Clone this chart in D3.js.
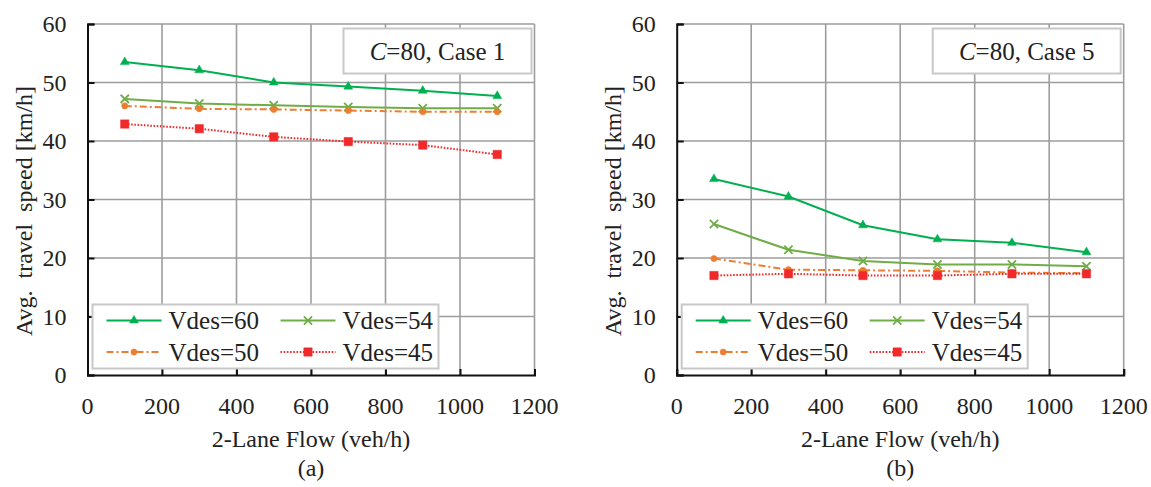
<!DOCTYPE html>
<html>
<head>
<meta charset="utf-8">
<script src="https://cdn.jsdelivr.net/npm/d3@7"></script>
<style>
  body { margin: 0; background: #fff; }
  svg text { font-family: "Liberation Serif", "Times New Roman", serif; fill: #222; }
</style>
</head>
<body>
<div id="chart"></div>
<script>
// —————————— DATA
var flows = [100, 300, 500, 700, 900, 1100];
var seriesNames = ["Vdes=60", "Vdes=54", "Vdes=50", "Vdes=45"];

// (a) C=80, Case 1
var speedA_v60 = [53.5, 52.1, 50.0, 49.3, 48.6, 47.7];
var speedA_v54 = [47.2, 46.4, 46.1, 45.8, 45.6, 45.6];
var speedA_v50 = [46.0, 45.5, 45.4, 45.2, 45.0, 45.0];
var speedA_v45 = [42.9, 42.1, 40.7, 39.9, 39.3, 37.7];

// (b) C=80, Case 5
var speedB_v60 = [33.5, 30.5, 25.6, 23.2, 22.6, 21.0];
var speedB_v54 = [25.8, 21.4, 19.5, 18.9, 18.9, 18.6];
var speedB_v50 = [19.9, 18.0, 17.9, 17.8, 17.5, 17.4];
var speedB_v45 = [17.0, 17.3, 17.0, 17.0, 17.3, 17.3];

var xTicks = [0, 200, 400, 600, 800, 1000, 1200];
var yTicks = [0, 10, 20, 30, 40, 50, 60];

var xTitle = "2-Lane Flow (veh/h)";
var yTitle = "Avg.  travel  speed [km/h]";

// —————————— STYLES
var styles = [
  {color: "#00b050", dash: null,        symbol: d3.symbolTriangle, size: 34, filled: true},
  {color: "#70ad47", dash: null,        symbol: d3.symbolX,        size: 46, filled: false},
  {color: "#ed7d31", dash: "7,3,2,3",   symbol: d3.symbolCircle,   size: 30, filled: true},
  {color: "#f02a2a", dash: "1.6,1.6",   symbol: d3.symbolSquare,   size: 70, filled: true}
];

var panels = [
  {left: 87.5,  label: "(a)", caseText: ", Case 1", series: [speedA_v60, speedA_v54, speedA_v50, speedA_v45]},
  {left: 676.7, label: "(b)", caseText: ", Case 5", series: [speedB_v60, speedB_v54, speedB_v50, speedB_v45]}
];

var W = 1151, H = 487;
var plotW = 447, plotTop = 24, plotBottom = 375;

var svg = d3.select("#chart").append("svg")
  .attr("width", W)
  .attr("height", H)
  .attr("font-family", "'Liberation Serif', 'Times New Roman', serif");

function drawPanel(p) {
  var x = d3.scaleLinear().domain([0, 1200]).range([p.left, p.left + plotW]);
  var y = d3.scaleLinear().domain([0, 60]).range([plotBottom, plotTop]);
  var g = svg.append("g");

  // grid
  g.selectAll(".vgrid").data(xTicks.slice(1)).enter().append("line")
    .attr("x1", d => x(d)).attr("x2", d => x(d))
    .attr("y1", plotTop).attr("y2", plotBottom)
    .attr("stroke", "#9d9d9d").attr("stroke-width", 1.6);
  g.selectAll(".hgrid").data(yTicks.slice(1)).enter().append("line")
    .attr("x1", p.left).attr("x2", p.left + plotW)
    .attr("y1", d => y(d)).attr("y2", d => y(d))
    .attr("stroke", "#9d9d9d").attr("stroke-width", 1.6);

  // axes (ticks point inward)
  var yAxis = g.append("g").attr("transform", "translate(" + p.left + ",0)")
    .call(d3.axisRight(y).tickValues(yTicks).tickSize(7).tickFormat(""));
  var xAxis = g.append("g").attr("transform", "translate(0," + plotBottom + ")")
    .call(d3.axisTop(x).tickValues(xTicks).tickSize(6).tickFormat(""));
  [xAxis, yAxis].forEach(function(a) {
    a.select(".domain").attr("stroke", "#111").attr("stroke-width", 2);
    a.selectAll(".tick line").attr("stroke", "#111").attr("stroke-width", 2);
  });

  // tick labels
  g.selectAll(".ylab").data(yTicks).enter().append("text")
    .attr("x", p.left - 21).attr("y", d => y(d) + 8)
    .attr("text-anchor", "end").style("font-size", "24px")
    .text(d => d);
  g.selectAll(".xlab").data(xTicks).enter().append("text")
    .attr("x", d => x(d)).attr("y", 414)
    .attr("text-anchor", "middle").style("font-size", "24px")
    .text(d => d);

  // titles
  g.append("text")
    .attr("x", p.left + plotW / 2).attr("y", 447)
    .attr("text-anchor", "middle").style("font-size", "24px")
    .text(xTitle);
  g.append("text")
    .attr("x", p.left + plotW / 2).attr("y", 476)
    .attr("text-anchor", "middle").style("font-size", "24px")
    .text(p.label);
  g.append("text")
    .attr("transform", "translate(" + (p.left - 56) + "," + 211 + ") rotate(-90)")
    .attr("text-anchor", "middle").style("font-size", "24px")
    .style("white-space", "pre")
    .text(yTitle);

  // series
  var line = d3.line().x((d, i) => x(flows[i])).y(d => y(d));
  p.series.forEach(function(vals, k) {
    var st = styles[k];
    g.append("path").datum(vals)
      .attr("d", line)
      .attr("fill", "none")
      .attr("stroke", st.color)
      .attr("stroke-width", 2)
      .attr("stroke-dasharray", st.dash);
    g.selectAll(".m" + k).data(vals).enter().append("path")
      .attr("transform", (d, i) => "translate(" + x(flows[i]) + "," + y(d) + ")")
      .attr("d", d3.symbol(st.symbol, st.size))
      .attr("fill", st.filled ? st.color : "none")
      .attr("stroke", st.color)
      .attr("stroke-width", st.filled ? 0.5 : 1.8);
  });

  // case annotation
  var bx = p.left + plotW - 191;
  g.append("rect")
    .attr("x", bx).attr("y", 28.5).attr("width", 188).attr("height", 45)
    .attr("fill", "#fff").attr("stroke", "#c8c8c8").attr("stroke-width", 2);
  var t = g.append("text")
    .attr("x", bx + 94).attr("y", 59.5)
    .attr("text-anchor", "middle").style("font-size", "25px");
  t.append("tspan").style("font-style", "italic").text("C");
  t.append("tspan").text("=80" + p.caseText);

  // legend
  var lx = p.left + 5, ly = 304.5;
  g.append("rect")
    .attr("x", lx).attr("y", ly).attr("width", 346).attr("height", 64)
    .attr("fill", "#fff").attr("stroke", "#c8c8c8").attr("stroke-width", 2);
  seriesNames.forEach(function(name, k) {
    var st = styles[k];
    var cx = lx + 14 + (k % 2) * 174;
    var cy = ly + 16 + Math.floor(k / 2) * 31.5;
    g.append("line")
      .attr("x1", cx).attr("x2", cx + 55)
      .attr("y1", cy).attr("y2", cy)
      .attr("stroke", st.color).attr("stroke-width", 2)
      .attr("stroke-dasharray", st.dash);
    g.append("path")
      .attr("transform", "translate(" + (cx + 27.5) + "," + cy + ")")
      .attr("d", d3.symbol(st.symbol, st.size))
      .attr("fill", st.filled ? st.color : "none")
      .attr("stroke", st.color)
      .attr("stroke-width", st.filled ? 0.5 : 1.8);
    g.append("text")
      .attr("x", cx + 62).attr("y", cy + 8.5)
      .style("font-size", "25px")
      .text(name);
  });
}

panels.forEach(drawPanel);
</script>
</body>
</html>
